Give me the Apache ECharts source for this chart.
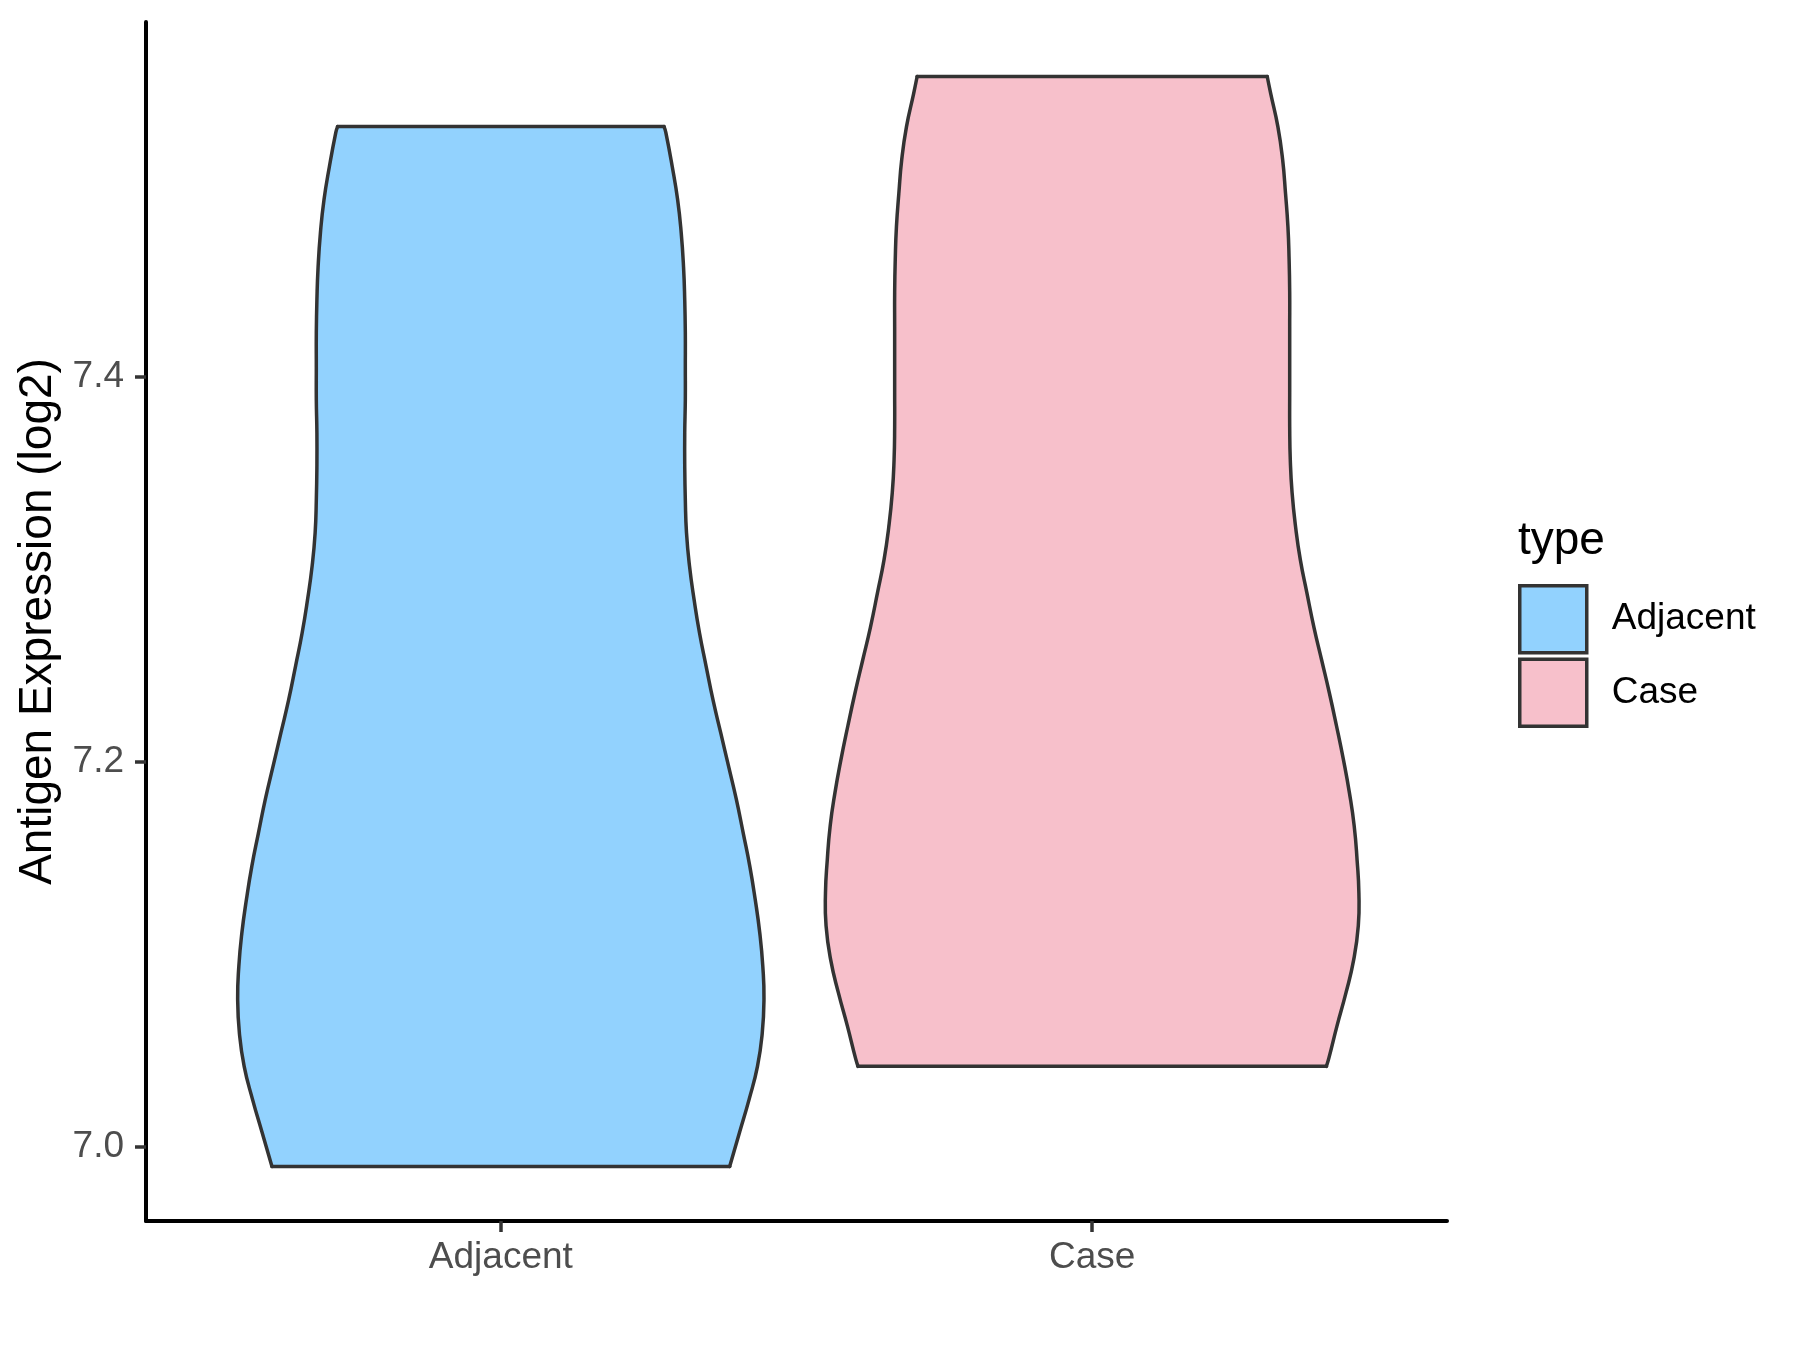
<!DOCTYPE html>
<html>
<head>
<meta charset="utf-8">
<script src="https://cdn.jsdelivr.net/npm/echarts@6/dist/echarts.min.js"></script>
<style>
  html, body { margin: 0; padding: 0; background: #fff; }
  #chart { width: 1800px; height: 1350px; }
</style>
</head>
<body>
<div id="chart"></div>
<script>
// groups on the x axis (positions 1, 2)
const categories = ['Adjacent', 'Case']
const yTicks = [7.0, 7.2, 7.4]

// violin outlines: expression value and half width (in x-axis units)
const adjacentY = [7.530, 7.527, 7.509, 7.492, 7.475, 7.457, 7.440, 7.423, 7.405, 7.388, 7.371,
  7.354, 7.336, 7.319, 7.302, 7.284, 7.267, 7.250, 7.232, 7.215, 7.198, 7.181, 7.163,
  7.146, 7.129, 7.111, 7.094, 7.077, 7.059, 7.042, 7.025, 7.008, 6.990]
const adjacentHalfWidth = [0.276, 0.279, 0.290, 0.299, 0.305, 0.309, 0.311, 0.312, 0.312, 0.312, 0.311,
  0.311, 0.312, 0.314, 0.319, 0.327, 0.336, 0.347, 0.359, 0.372, 0.385, 0.398, 0.410,
  0.421, 0.430, 0.438, 0.443, 0.445, 0.442, 0.434, 0.420, 0.404, 0.387]

const caseY = [7.556, 7.547, 7.530, 7.513, 7.495, 7.478, 7.461, 7.444, 7.426, 7.409, 7.392,
  7.374, 7.357, 7.340, 7.322, 7.305, 7.288, 7.270, 7.253, 7.236, 7.219, 7.201, 7.184,
  7.167, 7.149, 7.132, 7.115, 7.097, 7.080, 7.063, 7.046, 7.042]
const caseHalfWidth = [0.296, 0.302, 0.314, 0.322, 0.327, 0.331, 0.333, 0.334, 0.334, 0.334, 0.334,
  0.334, 0.335, 0.338, 0.344, 0.352, 0.363, 0.375, 0.388, 0.401, 0.413, 0.425, 0.435,
  0.443, 0.448, 0.451, 0.450, 0.442, 0.429, 0.414, 0.400, 0.396]

const colors = { Adjacent: '#92D2FE', Case: '#F7C0CB' }
const outline = '#333333'
const font = "'Liberation Sans', Arial, sans-serif"

function violinSeries(name, pos, ys, hws) {
  return {
    name,
    type: 'custom',
    itemStyle: { color: colors[name], borderColor: outline, borderWidth: 3.5 },
    data: [[pos]],
    renderItem: (params, api) => {
      const x = api.value(0)
      const left = ys.map((y, i) => api.coord([x - hws[i], y]))
      const right = ys.map((y, i) => api.coord([x + hws[i], y]))
      const n = ys.length - 1
      const line = { stroke: outline, lineWidth: 3.5, fill: null, lineCap: 'round', lineJoin: 'round' }
      return {
        type: 'group',
        children: [
          { type: 'polygon', shape: { points: left.concat(right.slice().reverse()) }, style: { fill: colors[name] } },
          { type: 'polyline', shape: { points: left, smooth: 0.5 }, style: line },
          { type: 'polyline', shape: { points: right, smooth: 0.5 }, style: line },
          { type: 'line', shape: { x1: left[0][0], y1: left[0][1], x2: right[0][0], y2: right[0][1] }, style: line },
          { type: 'line', shape: { x1: left[n][0], y1: left[n][1], x2: right[n][0], y2: right[n][1] }, style: line },
        ],
      }
    },
  }
}

const chart = echarts.init(document.getElementById('chart'))
chart.setOption({
  animation: false,
  backgroundColor: '#fff',
  title: {
    text: 'type', left: 1518, top: 518, padding: 0,
    textStyle: { fontFamily: font, fontSize: 46, fontWeight: 'normal', color: '#000' },
  },
  legend: {
    orient: 'vertical', left: 1518, top: 584, padding: 0,
    itemWidth: 67, itemHeight: 67, itemGap: 3,
    textStyle: { fontFamily: font, fontSize: 37, color: '#000', padding: [0, 0, 0, 20] },
    data: categories.map((c) => ({
      name: c, icon: 'rect',
      itemStyle: { color: colors[c], borderColor: outline, borderWidth: 3.5 },
    })),
  },
  grid: { left: 146, right: 353, top: 22, bottom: 129 },
  xAxis: {
    type: 'value', min: 0.4, max: 2.6,
    splitLine: { show: false },
    axisLine: { lineStyle: { color: '#000', width: 4 } },
    axisTick: { customValues: [1, 2], length: 11, lineStyle: { color: outline, width: 3.5 } },
    axisLabel: {
      customValues: [1, 2], margin: 18,
      fontFamily: font, fontSize: 37, color: '#4D4D4D',
      formatter: (v) => categories[Math.round(v) - 1] || '',
    },
  },
  yAxis: {
    type: 'value', min: 6.9617, max: 7.5843,
    name: 'Antigen Expression (log2)', nameLocation: 'middle', nameGap: 72, nameRotate: 90,
    nameTextStyle: { fontFamily: font, fontSize: 46, color: '#000' },
    splitLine: { show: false },
    axisLine: { show: true, lineStyle: { color: '#000', width: 4 } },
    axisTick: { show: true, customValues: yTicks, length: 11, lineStyle: { color: outline, width: 3.5 } },
    axisLabel: {
      customValues: yTicks, margin: 22,
      fontFamily: font, fontSize: 37, color: '#4D4D4D',
      formatter: (v) => v.toFixed(1),
    },
  },
  series: [
    violinSeries('Adjacent', 1, adjacentY, adjacentHalfWidth),
    violinSeries('Case', 2, caseY, caseHalfWidth),
  ],
})
</script>
</body>
</html>
